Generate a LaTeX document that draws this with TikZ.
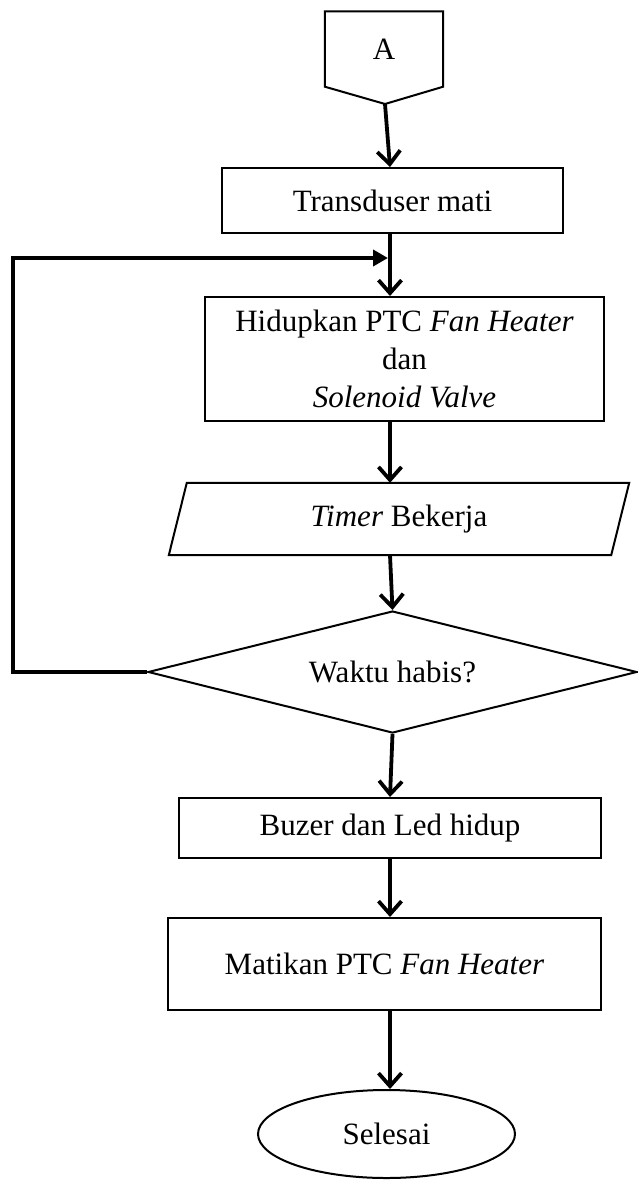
\documentclass[tikz,border=0pt]{standalone}
\usepackage{fontspec}
\setmainfont{Liberation Serif}
\usetikzlibrary{arrows.meta,shapes.geometric}
\begin{document}
\begin{tikzpicture}[x=1pt,y=-1pt,
  txt/.style={inner sep=0pt,align=center,font=\fontsize{31}{38}\selectfont},
  box/.style={txt,draw,line width=2pt,rectangle},
  flow/.style={line width=3.8pt,-{Straight Barb[length=13pt,width=23pt]}},
  back/.style={line width=4pt,-{Triangle[length=15pt,width=16pt]}},
  outline/.style={draw,line width=2pt,line join=miter}]
\useasboundingbox (0,0) rectangle (637,1180);
\fill[white] (0,0) rectangle (637,1180);

% vertical line that all the forward arrows follow
\coordinate (spine) at (390,0);

% off-page connector
\node[txt,minimum width=118pt,minimum height=75pt] (conA) at (384,49) {A};
\draw[outline] (conA.north west) -- (conA.north east) -- (conA.south east)
  -- (385,104) coordinate (conAtip) -- (conA.south west) -- cycle;

% process steps
\node[box,minimum width=341pt,minimum height=65pt] (trans) at (392.5,200.5) {Transduser mati};
\node[box,minimum width=399pt,minimum height=124pt] (hid) at (404.5,359)
  {Hidupkan PTC \textit{Fan Heater}\\dan\\\textit{Solenoid Valve}};

% input/output step (parallelogram)
\node[txt,minimum width=442pt,minimum height=72pt] (timer) at (399,519) {\textit{Timer} Bekerja};
\draw[outline] ([xshift=9pt]timer.north west) -- ([xshift=9pt]timer.north east)
  -- ([xshift=-9pt]timer.south east) -- ([xshift=-9pt]timer.south west) -- cycle;

% decision
\node[txt,draw,line width=2pt,shape=diamond,aspect=4,minimum width=489pt,minimum height=122pt]
  (dec) at (392.5,672) {Waktu habis?};

\node[box,minimum width=422pt,minimum height=60pt] (buz) at (390,828) {Buzer dan Led hidup};
\node[box,minimum width=433pt,minimum height=92pt] (mat) at (384.5,964) {Matikan PTC \textit{Fan Heater}};

% terminator
\node[txt,draw,line width=2pt,shape=ellipse,minimum width=257pt,minimum height=88pt]
  (end) at (386.5,1134) {Selesai};

% forward flow
\draw[flow] (conAtip) -- (trans.north -| spine);
\draw[flow] (trans.south -| spine) -- (hid.north -| spine);
\draw[flow] (hid.south -| spine) -- (timer.north -| spine);
\draw[flow] (timer.south -| spine) -- (dec.north);
\draw[flow] (dec.south) -- (buz.north -| spine);
\draw[flow] (buz.south -| spine) -- (mat.north -| spine);
\draw[flow] (mat.south -| spine) -- (end.north -| spine);

% loop back while the time is not over
\coordinate (loopcorner) at (13,258);
\coordinate (joint) at (388,258);
\draw[back] (dec.west) -| (loopcorner) -- (joint);
\end{tikzpicture}
\end{document}
